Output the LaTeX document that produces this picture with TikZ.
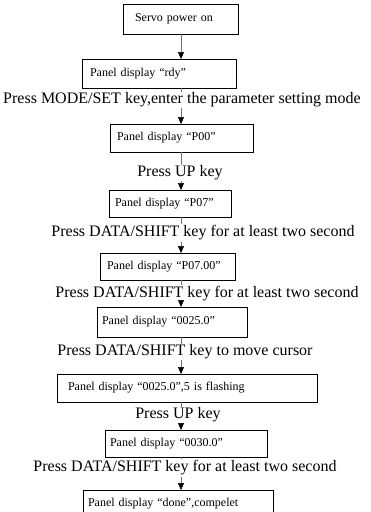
\documentclass[tikz,border=0pt]{standalone}
\usepackage{fontspec}
\setmainfont{Liberation Serif}
\usetikzlibrary{arrows.meta}
\tikzset{
  box/.style={draw=black, line width=0.7pt, anchor=west, outer sep=0pt, inner ysep=0pt, align=left, font=\fontsize{12}{14}\selectfont},
  lbl/.style={inner sep=1pt, font=\fontsize{16}{19}\selectfont},
  link/.style={draw=black!55, line width=0.5pt},
  arr/.style={link, -{Triangle[width=6pt,length=7pt,color=black]}},
}
\begin{document}
\begin{tikzpicture}[x=1pt,y=-1pt]
\useasboundingbox (0,0) rectangle (370,512);
\clip (0,0) rectangle (370,512);
\coordinate (ax) at (181,0);
% boxes
\node[box, minimum height=30pt, text width=91pt,  inner xsep=12pt] (b1) at (123,19)   {Servo power on};
\node[box, minimum height=29pt, text width=138pt, inner xsep=8pt]  (b2) at (82,73.5)  {Panel display “rdy”};
\node[box, minimum height=28pt, text width=129pt, inner xsep=7pt]  (b3) at (110,138)  {Panel display “P00”};
\node[box, minimum height=27pt, text width=110pt, inner xsep=6pt]  (b4) at (109,203.5){Panel display “P07”};
\node[box, minimum height=27pt, text width=121pt, inner xsep=7pt]  (b5) at (100,266.5){Panel display “P07.00”};
\node[box, minimum height=30pt, text width=140pt, inner xsep=5pt]  (b6) at (97,322)   {Panel display “0025.0”};
\node[box, minimum height=28pt, text width=238pt, inner xsep=11pt] (b7) at (57,388)   {Panel display “0025.0”,5 is flashing};
\node[box, minimum height=27pt, text width=152pt, inner xsep=5pt]  (b8) at (105,443.5){Panel display “0030.0”};
\node[box, minimum height=28pt, text width=180pt, inner xsep=5pt]  (b9) at (83,504)   {Panel display “done”,compelet};
% labels
\node[lbl] (l1) at (182,100) {Press MODE/SET key,enter the parameter setting mode};
\node[lbl] (l2) at (180,173) {Press UP key};
\node[lbl] (l3) at (203,233) {Press DATA/SHIFT key for at least two second};
\node[lbl] (l4) at (207,294) {Press DATA/SHIFT key for at least two second};
\node[lbl] (l5) at (185,352) {Press DATA/SHIFT key to move cursor};
\node[lbl] (l6) at (178,415) {Press UP key};
\node[lbl] (l7) at (185,468) {Press DATA/SHIFT key for at least two second};
% connectors
\draw[arr]  (b1.south -| ax) -- (b2.north -| ax);
\draw[link] (b2.south -| ax) -- (l1.north -| ax);
\draw[arr]  (l1.south -| ax) -- (b3.north -| ax);
\draw[link] (b3.south -| ax) -- (l2.north -| ax);
\draw[arr]  (l2.south -| ax) -- (b4.north -| ax);
\draw[link] (b4.south -| ax) -- (l3.north -| ax);
\draw[arr]  (l3.south -| ax) -- (b5.north -| ax);
\draw[link] (b5.south -| ax) -- (l4.north -| ax);
\draw[arr]  (l4.south -| ax) -- (b6.north -| ax);
\draw[link] (b6.south -| ax) -- (l5.north -| ax);
\draw[arr]  (l5.south -| ax) -- (b7.north -| ax);
\draw[link] (b7.south -| ax) -- (l6.north -| ax);
\draw[arr]  (l6.south -| ax) -- (b8.north -| ax);
\draw[link] (b8.south -| ax) -- (l7.north -| ax);
\draw[arr]  (l7.south -| ax) -- (b9.north -| ax);
\end{tikzpicture}
\end{document}
